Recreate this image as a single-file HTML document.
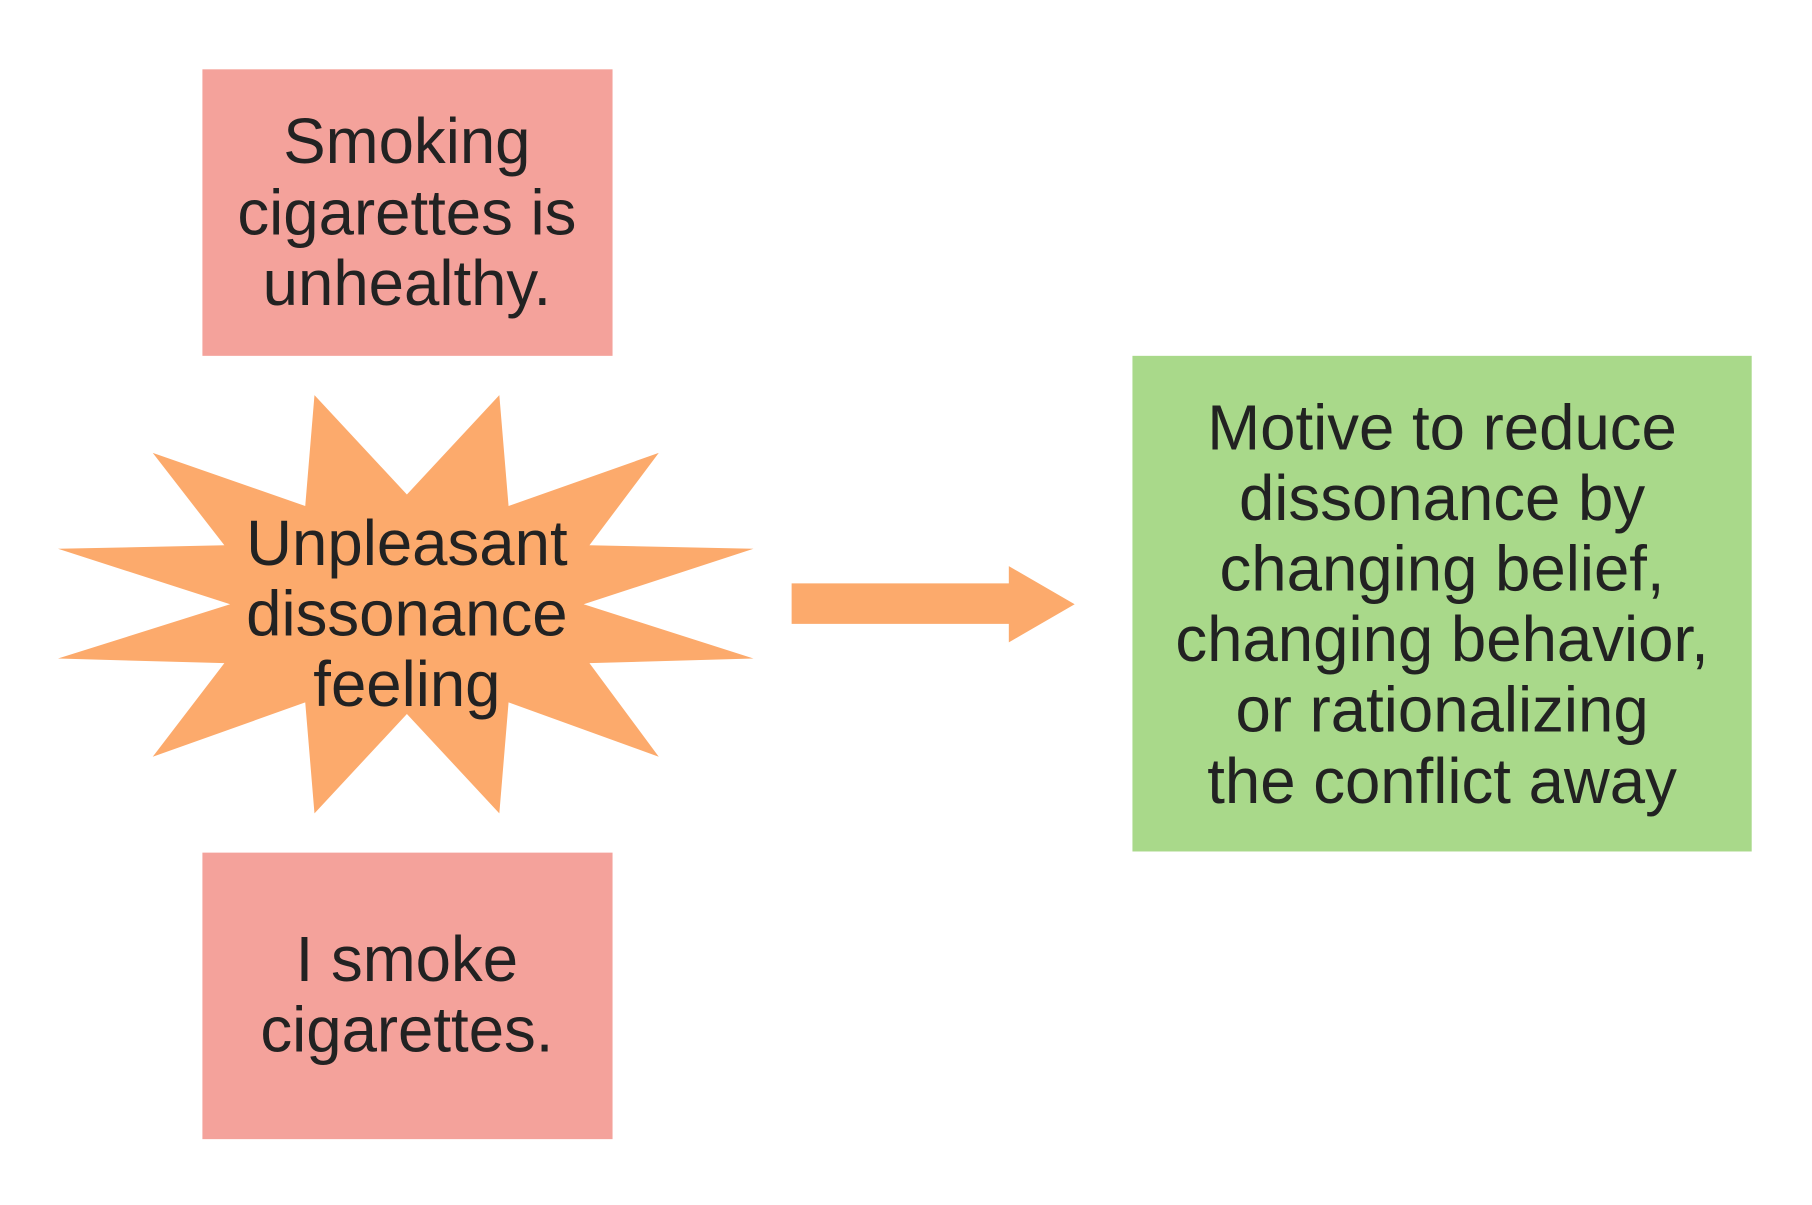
<!DOCTYPE html>
<html><head><meta charset="utf-8"><style>
html,body{margin:0;padding:0;background:#fff;width:1812px;height:1205px;overflow:hidden}
svg{display:block}
text{font-family:"Liberation Sans",Arial,sans-serif;font-size:55px;fill:#222;text-anchor:middle}
</style></head><body>
<svg width="1812" height="1205" viewBox="0 0 1568 1043" xmlns="http://www.w3.org/2000/svg">
<rect x="175" y="60" width="355" height="248" fill="#f4a29b"/>
<rect x="175" y="738" width="355" height="248" fill="#f4a29b"/>
<rect x="980" y="308" width="536" height="429" fill="#a9d98a"/>
<polygon fill="#fcaa6c" points="272,342 352,428 432,342 440,438 570,392 510,472 652,475 505,523 652,570 510,574 570,655 440,608 432,704 352,618 272,704 264,608 132,655 194,574 50,570 199,523 50,475 194,472 132,392 264,438"/>
<polygon fill="#fcaa6c" points="685,505 873,505 873,490 930,523 873,556 873,540 685,540"/>
<text x="352" y="141">Smoking</text>
<text x="352" y="203">cigarettes is</text>
<text x="352" y="264">unhealthy.</text>
<text x="352" y="489">Unpleasant</text>
<text x="352" y="550">dissonance</text>
<text x="352" y="611">feeling</text>
<text x="352" y="849">I smoke</text>
<text x="352" y="910">cigarettes.</text>
<text x="1248" y="389">Motive to reduce</text>
<text x="1248" y="450">dissonance by</text>
<text x="1248" y="511">changing belief,</text>
<text x="1248" y="572">changing behavior,</text>
<text x="1248" y="633">or rationalizing</text>
<text x="1248" y="695">the conflict away</text>
</svg>
</body></html>
